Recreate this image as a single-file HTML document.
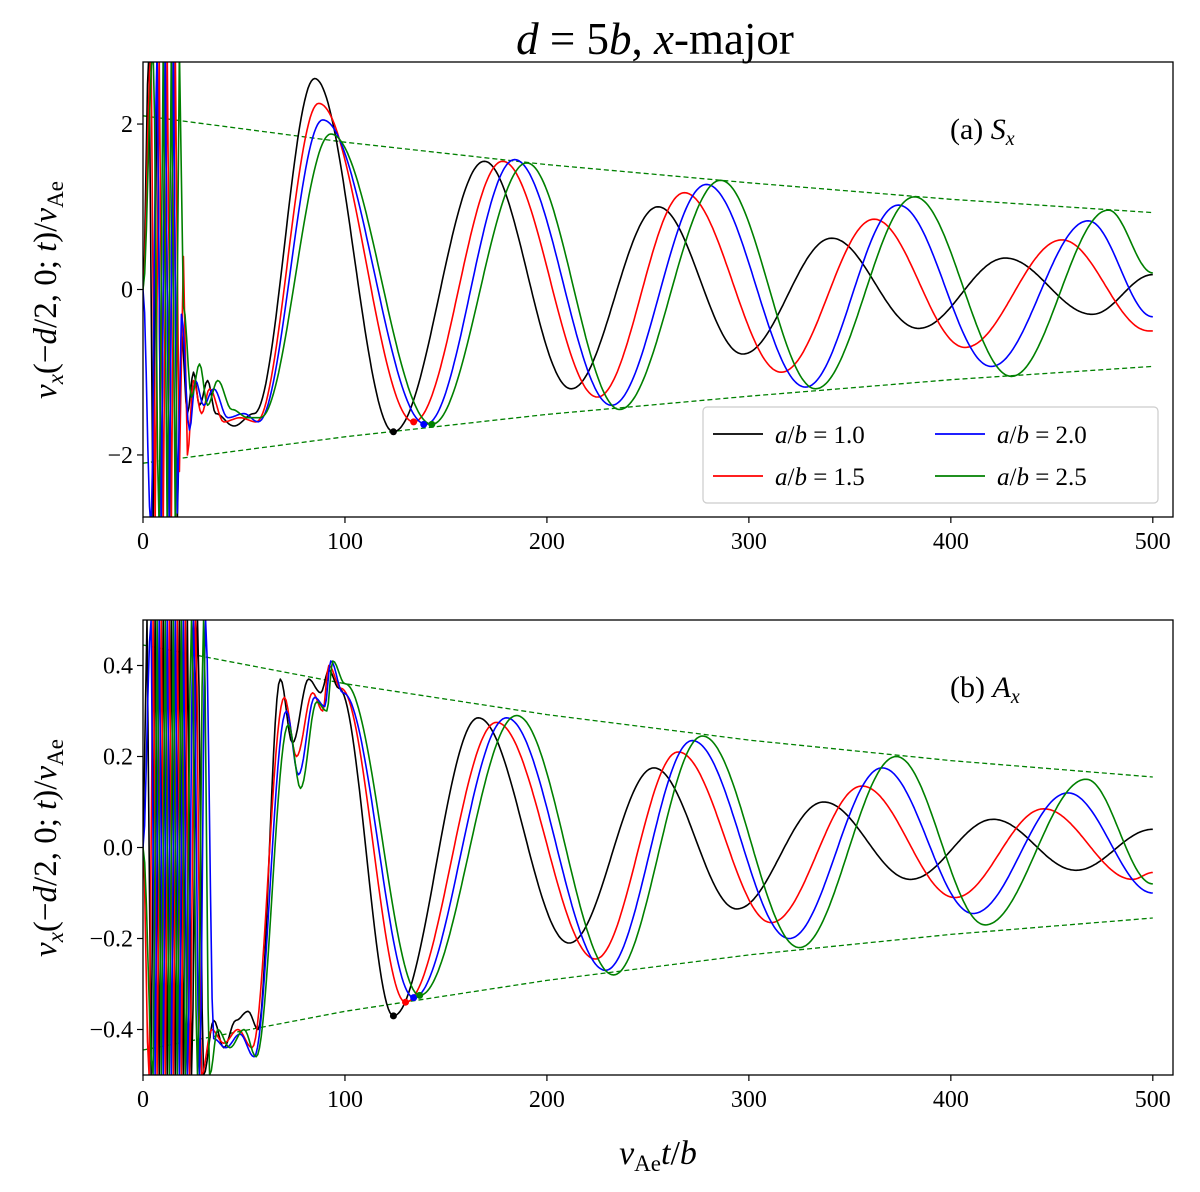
<!DOCTYPE html>
<html><head><meta charset="utf-8"><style>
body{margin:0;background:#fff}
svg text{font-family:"Liberation Serif","DejaVu Serif",serif;fill:#000}
</style></head><body>
<svg id="chart" width="1200" height="1187" xmlns="http://www.w3.org/2000/svg">
<text x="655" y="54" font-size="45" text-anchor="middle"><tspan font-style="italic">d</tspan> = 5<tspan font-style="italic">b</tspan>, <tspan font-style="italic">x</tspan>-major</text>
</svg>
<script>
// ---- data ----
const seriesNames = ["a/b = 1.0","a/b = 1.5","a/b = 2.0","a/b = 2.5"];
const seriesColors = ["#000000","#ff0000","#0000ff","#008000"];
const xTicks = [0,100,200,300,400,500];
const yTicksTop = [-2,0,2];
const yTicksBot = [-0.4,-0.2,0.0,0.2,0.4];
const envT = [0,100,200,300,400,500];
const envTop = [2.1,1.78,1.51,1.29,1.09,0.93];
const envBot = [0.445,0.36,0.292,0.236,0.191,0.155];
// top panel (S_x): [t, v] points
const topBlack = [[0,0],[3,2.9],[5,-2.9],[7,2.9],[9,-2.9],[11,2.9],[13,-2.9],[15,2.9],[17,-2.8],[19,-0.5],[22,-1.5],[25,-1.0],[28,-1.4],[32,-1.1],[36,-1.5],[45,-1.65],[55,-1.5],[85,2.55],[124,-1.72],[169,1.55],[212,-1.2],[255,1.0],[297,-0.78],[341,0.62],[384,-0.47],[427,0.38],[470,-0.3],[500,0.18]];
const topRed = [[0,0],[4,2.9],[6,-2.9],[8,2.9],[10,-2.9],[12,2.9],[14,-2.9],[16,2.9],[18,-2.2],[20,0.4],[22,-2.0],[25,-1.1],[29,-1.5],[33,-1.2],[40,-1.6],[48,-1.55],[56,-1.6],[87,2.25],[134,-1.6],[178,1.55],[225,-1.3],[268,1.17],[316,-1.0],[362,0.85],[407,-0.7],[455,0.6],[498,-0.5],[500,-0.5]];
const topBlue = [[0,0],[4,-2.9],[7,2.9],[9,-2.9],[11,2.9],[13,-2.9],[15,2.9],[17,-2.7],[19,-0.3],[23,-1.7],[26,-1.1],[30,-1.4],[35,-1.2],[42,-1.55],[50,-1.5],[57,-1.6],[89,2.05],[140,-1.63],[184,1.57],[232,-1.4],[279,1.27],[328,-1.18],[374,1.02],[420,-0.93],[468,0.83],[500,-0.33]];
const topGreen = [[0,0],[5,2.9],[8,-2.9],[10,2.9],[12,-2.9],[14,2.9],[16,-2.9],[18,2.9],[20,-0.2],[24,-1.3],[28,-0.9],[32,-1.4],[37,-1.1],[44,-1.45],[52,-1.55],[58,-1.55],[93,1.88],[143,-1.63],[190,1.53],[236,-1.45],[286,1.32],[333,-1.2],[382,1.12],[430,-1.05],[478,0.96],[500,0.2]];
// bottom panel (A_x)
const botBlack = [[0,0],[2,0.5],[4,-0.5],[6,0.5],[8,-0.5],[10,0.5],[12,-0.5],[14,0.5],[16,-0.5],[18,0.5],[20,-0.5],[22,0.5],[24,-0.5],[27,0.5],[30,-0.5],[35,-0.38],[40,-0.44],[46,-0.38],[52,-0.36],[57,-0.4],[68,0.37],[74,0.23],[82,0.37],[88,0.34],[92,0.39],[97,0.35],[124,-0.37],[166,0.285],[211,-0.21],[253,0.175],[294,-0.135],[337,0.1],[380,-0.07],[421,0.062],[462,-0.05],[500,0.04]];
const botRed = [[0,0],[3,-0.5],[5,0.5],[7,-0.5],[9,0.5],[11,-0.5],[13,0.5],[15,-0.5],[17,0.5],[19,-0.5],[21,0.5],[23,-0.5],[26,0.5],[29,-0.5],[34,-0.4],[40,-0.43],[47,-0.4],[54,-0.44],[70,0.33],[76,0.2],[84,0.34],[89,0.3],[92,0.4],[98,0.35],[130,-0.34],[175,0.275],[224,-0.245],[265,0.21],[311,-0.165],[356,0.135],[402,-0.11],[446,0.085],[490,-0.07],[500,-0.055]];
const botBlue = [[0,0],[4,0.5],[6,-0.5],[8,0.5],[10,-0.5],[12,0.5],[14,-0.5],[16,0.5],[18,-0.5],[20,0.5],[22,-0.5],[25,0.5],[28,-0.5],[31,0.5],[35,-0.42],[41,-0.44],[48,-0.41],[55,-0.46],[71,0.3],[77,0.16],[85,0.33],[90,0.31],[93,0.41],[99,0.34],[134,-0.33],[180,0.285],[229,-0.27],[272,0.235],[320,-0.2],[366,0.175],[411,-0.145],[458,0.12],[500,-0.1]];
const botGreen = [[0,0],[5,-0.5],[7,0.5],[9,-0.5],[11,0.5],[13,-0.5],[15,0.5],[17,-0.5],[19,0.5],[21,-0.5],[24,0.5],[27,-0.5],[30,0.5],[33,-0.5],[37,-0.4],[43,-0.44],[50,-0.4],[56,-0.46],[72,0.27],[78,0.13],[86,0.32],[91,0.3],[94,0.41],[100,0.36],[137,-0.325],[185,0.29],[233,-0.28],[277,0.245],[325,-0.22],[373,0.2],[417,-0.17],[467,0.15],[500,-0.08]];
const topMarks = [[124,-1.72],[134,-1.6],[139,-1.63],[143,-1.63]];
const botMarks = [[124,-0.37],[130,-0.34],[134,-0.33],[137,-0.325]];

const svg = document.getElementById('chart');
const NS = 'http://www.w3.org/2000/svg';
function mk(tag, attrs){const e=document.createElementNS(NS,tag);for(const k in attrs)e.setAttribute(k,attrs[k]);return e;}

function panel(id, top, bottom, ymin, ymax, yTicks, fmt, series, env, marks, label, sub, ylabelY){
  const L=143, R=1173, x0=0, x1=510;
  const X=t=>L+(t-x0)/(x1-x0)*(R-L);
  const Y=v=>bottom-(v-ymin)/(ymax-ymin)*(bottom-top);
  const g=mk('g',{});
  
  
  svg.appendChild(g);
  const cp=mk('clipPath',{id:id+'-clip'});cp.appendChild(mk('rect',{x:L,y:top,width:R-L,height:bottom-top}));g.appendChild(cp);
  const plot=mk('g',{'clip-path':'url(#'+id+'-clip)'});g.appendChild(plot);
  [1,-1].forEach(s=>{
    const d=envT.map((t,i)=>(i?'L':'M')+X(t).toFixed(1)+','+Y(s*env[i]).toFixed(1)).join('');
    const p=mk('path',{d:d,fill:'none',stroke:'#008000','stroke-width':1.3,'stroke-dasharray':'5,3'});
    
    
    plot.appendChild(p);
  });
  series.forEach((pts,si)=>{
    let d='M'+X(pts[0][0]).toFixed(1)+','+Y(pts[0][1]).toFixed(1);
    for(let i=0;i<pts.length-1;i++){
      const [ta,va]=pts[i],[tb,vb]=pts[i+1];
      const n=Math.max(2,Math.round((tb-ta)*1.2));
      for(let k=1;k<=n;k++){const s=k/n;const t=ta+(tb-ta)*s;const v=va+(vb-va)*(1-Math.cos(Math.PI*s))/2;d+='L'+X(t).toFixed(1)+','+Y(v).toFixed(1);}
    }
    const p=mk('path',{d:d,fill:'none',stroke:seriesColors[si],'stroke-width':1.6,'stroke-linejoin':'round'});
    
    
    plot.appendChild(p);
  });
  marks.forEach((m,i)=>{
    const c=mk('circle',{cx:X(m[0]),cy:Y(m[1]),r:3.5,fill:seriesColors[i]});
    
    
    plot.appendChild(c);
  });
  const frame=mk('rect',{x:L,y:top,width:R-L,height:bottom-top,fill:'none',stroke:'#000','stroke-width':1.3});
  
  
  g.appendChild(frame);
  xTicks.forEach(t=>{
    g.appendChild(mk('line',{x1:X(t),x2:X(t),y1:bottom,y2:bottom+6,stroke:'#000','stroke-width':1.2}));
    const tx=mk('text',{x:X(t),y:bottom+32,'font-size':24,'text-anchor':'middle'});tx.textContent=t;
    
    
    g.appendChild(tx);
  });
  yTicks.forEach(v=>{
    g.appendChild(mk('line',{x1:L-6,x2:L,y1:Y(v),y2:Y(v),stroke:'#000','stroke-width':1.2}));
    const tx=mk('text',{x:L-10,y:Y(v)+8,'font-size':24,'text-anchor':'end'});tx.textContent=fmt(v);
    
    
    g.appendChild(tx);
  });
  const an=mk('text',{x:950,y:top+77,'font-size':30});
  an.innerHTML=label+' <tspan font-style="italic">'+sub[0]+'</tspan><tspan font-style="italic" font-size="20" dy="6">'+sub[1]+'</tspan>';
  
  
  g.appendChild(an);
  const yl=mk('text',{x:0,y:0,'font-size':33,'text-anchor':'middle',transform:'translate(56,'+ylabelY+') rotate(-90)'});
  yl.innerHTML='<tspan font-style="italic">v</tspan><tspan font-style="italic" font-size="23" dy="7">x</tspan><tspan dy="-7">(−</tspan><tspan font-style="italic">d</tspan>/2, 0; <tspan font-style="italic">t</tspan>)/<tspan font-style="italic">v</tspan><tspan font-size="23" dy="7">Ae</tspan>';
  
  
  g.appendChild(yl);
}
const f0=v=>v===0?'0':(v<0?'−'+Math.abs(v):''+v);
const f1=v=>(v<0?'−':'')+Math.abs(v).toFixed(1);
panel('top',62,517,-2.75,2.75,yTicksTop,f0,[topBlack,topRed,topBlue,topGreen],envTop,topMarks,'(a)','Sx',290);
panel('bottom',620,1075,-0.5,0.5,yTicksBot,f1,[botBlack,botRed,botBlue,botGreen],envBot,botMarks,'(b)','Ax',848);

const lg=mk('g',{});


svg.appendChild(lg);
lg.appendChild(mk('rect',{x:703,y:407,width:455,height:96,rx:4,fill:'#fff','fill-opacity':0.85,stroke:'#ccc','stroke-width':1.2}));
const legPos=[[713,434],[713,476],[935,434],[935,476]];
seriesNames.forEach((n,i)=>{
  const [lx,ly]=legPos[i];
  const e=mk('g',{});
  
  
  e.appendChild(mk('line',{x1:lx,x2:lx+50,y1:ly,y2:ly,stroke:seriesColors[i],'stroke-width':1.8}));
  const parts=n.split(' = ');
  const t=mk('text',{x:lx+62,y:ly+9,'font-size':25});
  t.innerHTML='<tspan font-style="italic">a</tspan>/<tspan font-style="italic">b</tspan> = '+parts[1];
  e.appendChild(t);
  lg.appendChild(e);
});
const xt=mk('text',{x:658,y:1164,'font-size':34,'text-anchor':'middle'});
xt.innerHTML='<tspan font-style="italic">v</tspan><tspan font-size="23" dy="7">Ae</tspan><tspan font-style="italic" dy="-7">t</tspan>/<tspan font-style="italic">b</tspan>';


svg.appendChild(xt);
</script>
</body></html>
